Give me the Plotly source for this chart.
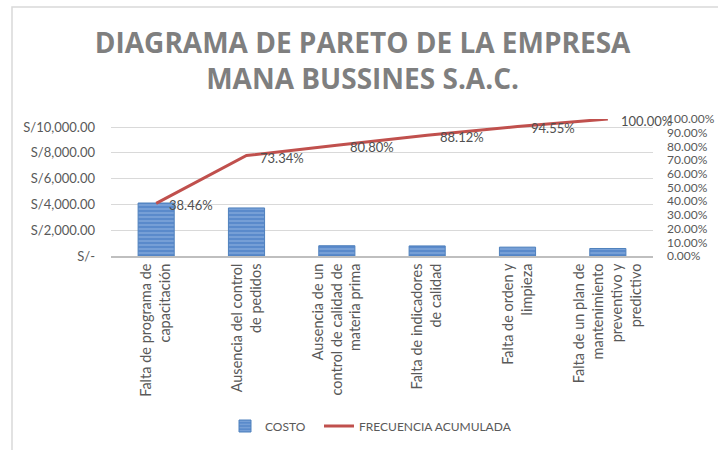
import plotly.graph_objects as go

categories = [
    "Falta de programa de<br>capacitación",
    "Ausencia del control<br>de pedidos",
    "Ausencia de un<br>control de calidad de<br>materia prima",
    "Falta de indicadores<br>de calidad",
    "Falta de orden y<br>limpieza",
    "Falta de un plan de<br>mantenimiento<br>preventivo y<br>predictivo",
]
costo = [4108, 3725, 797, 782, 687, 582]
frecuencia_acumulada = [0.3846, 0.7334, 0.8080, 0.8812, 0.9455, 1.0]

left_tickvals = [0, 2000, 4000, 6000, 8000, 10000]
left_ticktext = ["S/-", "S/2,000.00", "S/4,000.00", "S/6,000.00", "S/8,000.00", "S/10,000.00"]
right_tickvals = [i / 10 for i in range(11)]
right_ticktext = [f"{v*100:.2f}%" for v in right_tickvals]

W, H = 718, 450
L, R, T, B = 111, 65, 119, 194
pw, ph = W - L - R, H - T - B

FONT = "Lato, 'Open Sans', sans-serif"
GRAY = "#595959"

fig = go.Figure()
fig.add_trace(go.Bar(
    x=categories, y=costo, name="COSTO",
    width=0.4, legend="legend",
    marker=dict(color="#5a8acb", line=dict(color="#4f81bd", width=1),
                pattern=dict(shape="-", fgcolor="#a9c5ea", size=4, solidity=0.35)),
))
fig.add_trace(go.Scatter(
    x=categories, y=frecuencia_acumulada, name="FRECUENCIA ACUMULADA",
    yaxis="y2", mode="lines", legend="legend2",
    line=dict(color="#c0504d", width=3),
    cliponaxis=False,
))

for c, v in zip(categories, frecuencia_acumulada):
    fig.add_annotation(
        x=c, y=v, xref="x", yref="y2", text=f"{v*100:.2f}%",
        showarrow=False, xanchor="left", yanchor="middle",
        xshift=11, yshift=-2,
        font=dict(family=FONT, size=13, color="#505050"),
    )

legend_common = dict(
    orientation="h", xref="container", xanchor="left",
    yref="container", y=(H - 426) / H, yanchor="middle",
    font=dict(size=12, color=GRAY), bgcolor="rgba(0,0,0,0)",
)

fig.update_layout(
    width=W, height=H,
    margin=dict(l=L, r=R, t=T, b=B, autoexpand=False),
    paper_bgcolor="white", plot_bgcolor="white",
    font=dict(family=FONT, color=GRAY),
    title=dict(
        text="<b>DIAGRAMA DE PARETO DE LA EMPRESA<br>MANA BUSSINES S.A.C.</b>",
        font=dict(family="'Open Sans', sans-serif", size=28, color="#7f7f7f"),
        x=0.505, xanchor="center", y=1 - 53 / H, yanchor="middle",
    ),
    xaxis=dict(
        range=[-0.5, len(categories) - 0.5],
        tickangle=-90, tickfont=dict(size=14.5, color=GRAY),
        showline=True, linecolor="#bfbfbf", linewidth=1.5,
        showgrid=False, ticks="", automargin=False,
    ),
    yaxis=dict(
        range=[0, 10000 * 137 / 129], tickvals=left_tickvals, ticktext=left_ticktext,
        tickfont=dict(size=13, color=GRAY), showgrid=True, gridcolor="#d9d9d9",
        gridwidth=1, zeroline=False, ticks="", ticklabelstandoff=15, automargin=False,
    ),
    yaxis2=dict(
        range=[0, 1], overlaying="y", side="right",
        tickvals=right_tickvals, ticktext=right_ticktext,
        tickfont=dict(size=12, color=GRAY), showgrid=False, zeroline=False,
        ticks="", ticklabelstandoff=13, automargin=False,
    ),
    legend=dict(x=225 / W, **legend_common),
    legend2=dict(x=319 / W, **legend_common),
    showlegend=True,
    bargap=0.6,
)

# light border of chart area (left and top edges visible)
fig.add_shape(type="rect", xref="paper", yref="paper",
              x0=(12 - L) / pw, x1=(725 - L) / pw,
              y0=(H - B - 460) / ph, y1=(H - B - 7) / ph,
              line=dict(color="#d9d9d9", width=1.5), layer="below")

fig.write_html("out.html", config={"displayModeBar": False},
               post_script="document.body.style.margin='0';")
